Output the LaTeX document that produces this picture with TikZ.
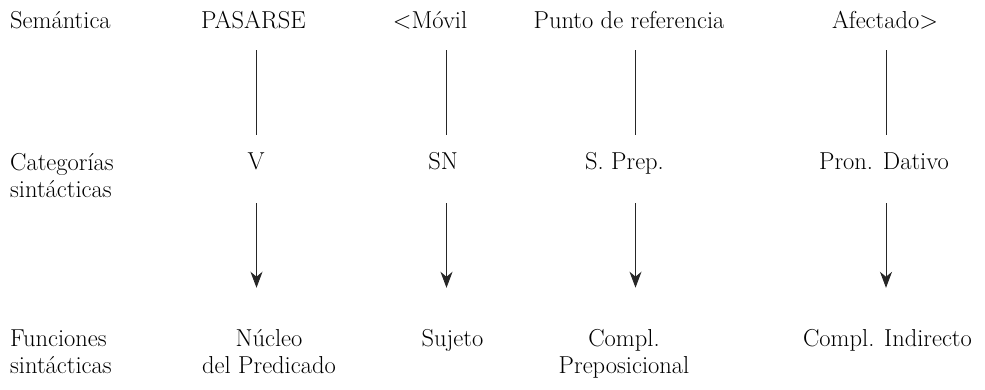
\documentclass[tikz,border=0pt]{standalone}
\usetikzlibrary{arrows.meta}
\begin{document}
\begin{tikzpicture}[x=1pt,y=1pt,
  lbl/.style={inner sep=0pt,font=\fontsize{24.5}{27}\selectfont},
  sline/.style={lbl,anchor=base,text height=17pt,text depth=0pt},
  mline/.style={lbl,anchor=base,align=center},
  lft/.style={lbl,anchor=base west,align=left},
  conn/.style={line width=0.9pt,black!85},
  arr/.style={conn,-{Stealth[length=16pt,width=12pt,inset=5pt]}}]
\useasboundingbox (0,0) rectangle (985,-389);
% column coordinates
\coordinate (c1) at (256.5,0);
\coordinate (c2) at (446.5,0);
\coordinate (c3) at (635.5,0);
\coordinate (c4) at (886,0);
% row 1
\node[lft] (sem) at (10,-28) {Semántica};
\node[sline] (pasarse) at (253.5,-28) {PASARSE};
\node[sline] (movil) at (430,-28) {<Móvil};
\node[sline] (punto) at (629,-28) {Punto de referencia};
\node[sline] (afect) at (885,-28) {Afectado>};
% row 2 (multi-line nodes sit on the baseline of their last line)
\node[lft] (cat) at (10,-197) {Categorías\\sintácticas};
\node[sline] (v) at (256,-169) {V};
\node[sline] (sn) at (443,-169) {SN};
\node[sline] (sprep) at (624.5,-169) {S. Prep.};
\node[sline] (pron) at (884,-169) {Pron. Dativo};
% row 3
\node[lft] (fun) at (10,-373) {Funciones\\sintácticas};
\node[mline] (nucleo) at (269,-373) {Núcleo\\del Predicado};
\node[sline] (sujeto) at (452.5,-346) {Sujeto};
\node[mline] (compl) at (624,-373) {Compl.\\Preposicional};
\node[sline] (ci) at (887.5,-346) {Compl. Indirecto};
% plain lines
\draw[conn,shorten <=22pt,shorten >=17pt] (pasarse.south -| c1) -- (v.north -| c1);
\draw[conn,shorten <=22pt,shorten >=17pt] (movil.south -| c2) -- (sn.north -| c2);
\draw[conn,shorten <=22pt,shorten >=17pt] (punto.south -| c3) -- (sprep.north -| c3);
\draw[conn,shorten <=22pt,shorten >=17pt] (afect.south -| c4) -- (pron.north -| c4);
% arrows
\draw[arr,shorten <=34pt,shorten >=41pt] (v.south -| c1) -- (nucleo.north -| c1);
\draw[arr,shorten <=34pt,shorten >=41pt] (sn.south -| c2) -- (sujeto.north -| c2);
\draw[arr,shorten <=34pt,shorten >=41pt] (sprep.south -| c3) -- (compl.north -| c3);
\draw[arr,shorten <=34pt,shorten >=41pt] (pron.south -| c4) -- (ci.north -| c4);
\end{tikzpicture}
\end{document}
